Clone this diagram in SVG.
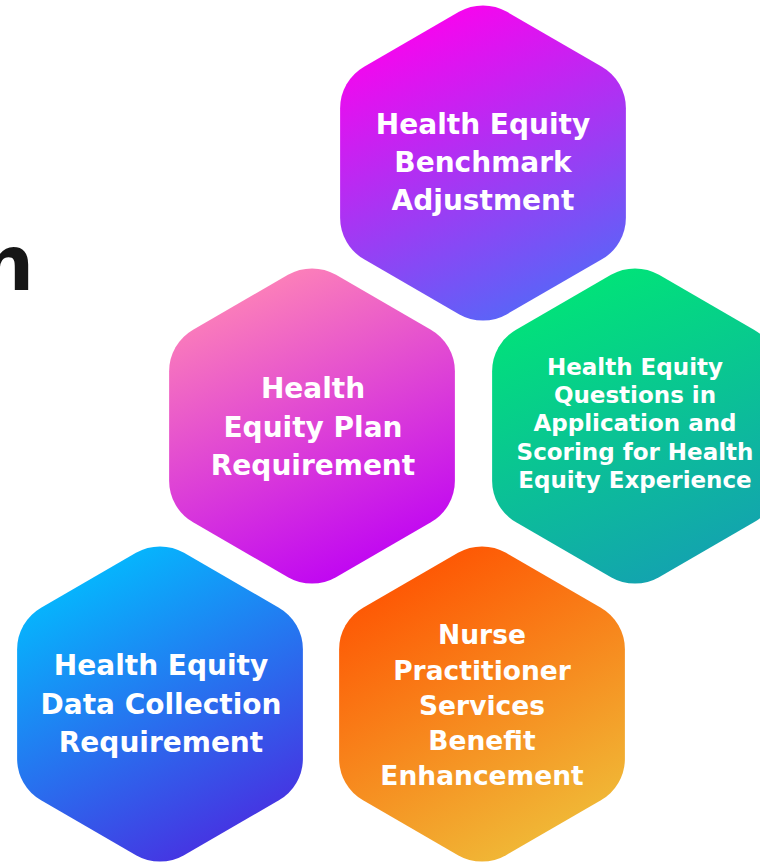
<svg xmlns="http://www.w3.org/2000/svg" xmlns:xlink="http://www.w3.org/1999/xlink" width="760" height="862" viewBox="0 0 760 862">
  <defs>
    <style>
      .lbl { font-family: "DejaVu Sans", "Liberation Sans", sans-serif; font-weight: bold; fill: #ffffff; text-anchor: middle; }
      .big { font-size: 28px; }
      .mid { font-size: 26.5px; }
      .sm { font-size: 23px; }
      .title { font-family: "DejaVu Sans", "Liberation Sans", sans-serif; font-weight: bold; fill: #161616; font-size: 76px; text-anchor: end; }
    </style>
    <!-- pointy-top hexagon with rounded corners, centred on the origin -->
    <path id="hex" d="M -24,-151.15 A 48 48 0 0 1 24,-151.15 L 118.9,-96.35 A 48 48 0 0 1 142.89,-54.8 L 142.89,54.8 A 48 48 0 0 1 118.9,96.35 L 24,151.15 A 48 48 0 0 1 -24,151.15 L -118.9,96.35 A 48 48 0 0 1 -142.89,54.8 L -142.89,-54.8 A 48 48 0 0 1 -118.9,-96.35 Z"/>
    <linearGradient id="gPurple" x1="0.3" y1="0" x2="0.7" y2="1">
      <stop offset="0" stop-color="#ff00ee"/>
      <stop offset="1" stop-color="#5269f8"/>
    </linearGradient>
    <linearGradient id="gPink" x1="0.3" y1="0" x2="0.7" y2="1">
      <stop offset="0" stop-color="#ff86b6"/>
      <stop offset="1" stop-color="#bd00f5"/>
    </linearGradient>
    <linearGradient id="gGreen" x1="0.3" y1="0" x2="0.7" y2="1">
      <stop offset="0" stop-color="#00e676"/>
      <stop offset="1" stop-color="#14a0b2"/>
    </linearGradient>
    <linearGradient id="gBlue" x1="0.25" y1="0" x2="0.75" y2="1">
      <stop offset="0" stop-color="#00c0ff"/>
      <stop offset="1" stop-color="#4b2ae0"/>
    </linearGradient>
    <linearGradient id="gOrange" x1="0.25" y1="0" x2="0.75" y2="1">
      <stop offset="0" stop-color="#ff5000"/>
      <stop offset="1" stop-color="#efbf3a"/>
    </linearGradient>
  </defs>

  <rect x="0" y="0" width="760" height="862" fill="#ffffff"/>

  <!-- tail of the heading -->
  <text class="title" x="34" y="290">n</text>

  <g id="benchmark">
    <use href="#hex" xlink:href="#hex" transform="translate(483,163)" fill="url(#gPurple)"/>
    <text class="lbl big" x="483" y="134">Health Equity</text>
    <text class="lbl big" x="483" y="172">Benchmark</text>
    <text class="lbl big" x="483" y="210">Adjustment</text>
  </g>

  <g id="plan">
    <use href="#hex" xlink:href="#hex" transform="translate(312,426)" fill="url(#gPink)"/>
    <text class="lbl big" x="313" y="398">Health</text>
    <text class="lbl big" x="313" y="437">Equity Plan</text>
    <text class="lbl big" x="313" y="475">Requirement</text>
  </g>

  <g id="questions">
    <use href="#hex" xlink:href="#hex" transform="translate(635,426)" fill="url(#gGreen)"/>
    <text class="lbl sm" x="635" y="375">Health Equity</text>
    <text class="lbl sm" x="635" y="403">Questions in</text>
    <text class="lbl sm" x="635" y="431">Application and</text>
    <text class="lbl sm" x="635" y="460">Scoring for Health</text>
    <text class="lbl sm" x="635" y="488">Equity Experience</text>
  </g>

  <g id="data-collection">
    <use href="#hex" xlink:href="#hex" transform="translate(160,704)" fill="url(#gBlue)"/>
    <text class="lbl big" x="161" y="675">Health Equity</text>
    <text class="lbl big" x="161" y="714">Data Collection</text>
    <text class="lbl big" x="161" y="752">Requirement</text>
  </g>

  <g id="nurse-practitioner">
    <use href="#hex" xlink:href="#hex" transform="translate(482,704)" fill="url(#gOrange)"/>
    <text class="lbl mid" x="482" y="644">Nurse</text>
    <text class="lbl mid" x="482" y="680">Practitioner</text>
    <text class="lbl mid" x="482" y="715">Services</text>
    <text class="lbl mid" x="482" y="750">Benefit</text>
    <text class="lbl mid" x="482" y="785">Enhancement</text>
  </g>
</svg>
